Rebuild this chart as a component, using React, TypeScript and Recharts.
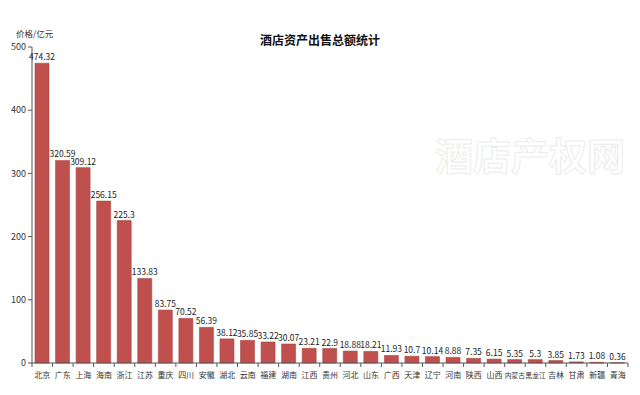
import { BarChart, Bar, XAxis, YAxis, LabelList } from 'recharts';

const provinces = ['北京', '广东', '上海', '海南', '浙江', '江苏', '重庆', '四川', '安徽', '湖北', '云南', '福建', '湖南', '江西', '贵州', '河北', '山东', '广西', '天津', '辽宁', '河南', '陕西', '山西', '内蒙古', '黑龙江', '吉林', '甘肃', '新疆', '青海'];
const amounts = [474.32, 320.59, 309.12, 256.15, 225.3, 133.83, 83.75, 70.52, 56.39, 38.12, 35.85, 33.22, 30.07, 23.21, 22.9, 18.88, 18.21, 11.93, 10.7, 10.14, 8.88, 7.35, 6.15, 5.35, 5.3, 3.85, 1.73, 1.08, 0.36];
const yTicks = [0, 100, 200, 300, 400, 500];

const font = '"Noto Sans CJK SC", "Noto Sans", sans-serif';
const W = 640;
const H = 395;
const left = 32;
const right = 12;
const band = (W - left - right) / provinces.length;

const data = provinces.map((name, i) => ({ name, amount: amounts[i] }));

// category label plus a small tick mark on the left boundary of each band
function XTick(props: any) {
  const { x, y, payload, index } = props;
  const bx = x - band / 2;
  const long = String(payload.value).length > 2;
  return (
    <g>
      <line x1={bx} y1={y - 8} x2={bx} y2={y - 4} stroke="#555" />
      {index === provinces.length - 1 && <line x1={bx + band} y1={y - 8} x2={bx + band} y2={y - 4} stroke="#555" />}
      <text x={x} y={y + 7} textAnchor="middle" fontSize={long ? 6.8 : 8} fill="#333" fontFamily={font}>
        {payload.value}
      </text>
    </g>
  );
}

export default function App() {
  return (
    <div style={{ position: 'absolute', left: 0, top: 0, width: W, height: H, background: '#fff', fontFamily: font }}>
      <BarChart width={W} height={H} data={data} margin={{ top: 47, right, bottom: 12, left: 0 }} barSize={14}>
        {/* watermark */}
        <text x={530} y={170} textAnchor="middle" fontSize={38} fontWeight="bold" fill="#fff" stroke="#ececec" strokeWidth={1} fontFamily={font}>
          酒店产权网
        </text>
        <text x={320} y={45} textAnchor="middle" fontSize={12} fontWeight="bold" fill="#111" fontFamily={font}>
          酒店资产出售总额统计
        </text>
        <text x={16} y={37} fontSize={8.5} fill="#333" fontFamily={font}>
          价格/亿元
        </text>
        <XAxis
          dataKey="name"
          interval={0}
          height={20}
          tickLine={false}
          axisLine={{ stroke: '#555' }}
          tick={<XTick />}
        />
        <YAxis
          domain={[0, 500]}
          ticks={yTicks}
          width={left}
          tickSize={4}
          axisLine={{ stroke: '#555' }}
          tickLine={{ stroke: '#555' }}
          tick={{ fontSize: 9, fill: '#333', fontFamily: font }}
        />
        <Bar dataKey="amount" fill="#c0504d" stroke="#a94542" strokeWidth={0.6} isAnimationActive={false}>
          <LabelList dataKey="amount" position="top" offset={3} style={{ fontSize: 8.5, fill: '#222', fontFamily: font }} />
        </Bar>
      </BarChart>
    </div>
  );
}
